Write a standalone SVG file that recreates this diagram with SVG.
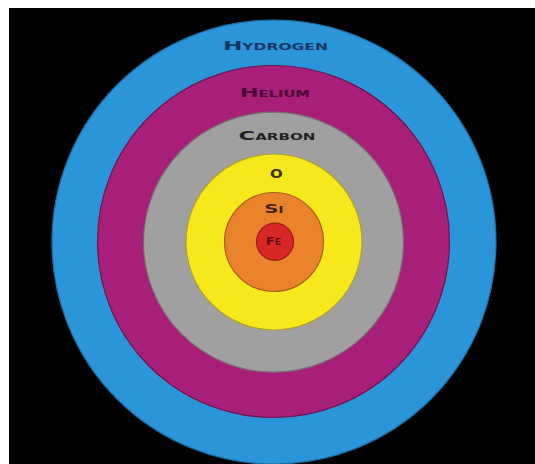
<svg xmlns="http://www.w3.org/2000/svg" width="535" height="464" viewBox="0 0 535 464">
<style>
.lbl{font-family:"DejaVu Sans","Liberation Sans",sans-serif;font-weight:bold;font-size:12px;font-variant:small-caps;text-anchor:middle}
.ring{stroke-width:1.2}
</style>
<rect x="0" y="0" width="535" height="464" fill="#ffffff"/>
<rect x="9" y="8" width="526" height="456" fill="#000000"/>
<g id="hydrogen">
<circle class="ring" cx="274" cy="242" r="222" fill="#2a95d8" stroke="#1d6fa3"/>
<text class="lbl" x="275.4" y="50" textLength="105" lengthAdjust="spacingAndGlyphs" fill="#16385e">Hydrogen</text>
</g>
<g id="helium">
<circle class="ring" cx="273.5" cy="241.5" r="176" fill="#a81f7a" stroke="#6e1450"/>
<text class="lbl" x="275" y="97" textLength="70" lengthAdjust="spacingAndGlyphs" fill="#4a0934">Helium</text>
</g>
<g id="carbon">
<circle class="ring" cx="273.5" cy="242.2" r="130" fill="#a0a0a0" stroke="#7a6a70"/>
<text class="lbl" x="277" y="140" textLength="77" lengthAdjust="spacingAndGlyphs" fill="#222222">Carbon</text>
</g>
<g id="oxygen">
<circle class="ring" cx="274" cy="242" r="88" fill="#f7e81c" stroke="#b0a030"/>
<text class="lbl" x="276.3" y="178" textLength="12.7" lengthAdjust="spacingAndGlyphs" fill="#3a3200">O</text>
</g>
<g id="silicon">
<circle class="ring" cx="274" cy="242" r="49.5" fill="#e9822b" stroke="#a8601f"/>
<text class="lbl" x="273.8" y="213" textLength="19" lengthAdjust="spacingAndGlyphs" fill="#3a2410">Si</text>
</g>
<g id="iron">
<circle class="ring" cx="275" cy="241.7" r="18.5" fill="#db2628" stroke="#a01a1c"/>
<text class="lbl" x="273.5" y="245" textLength="15" lengthAdjust="spacingAndGlyphs" fill="#5e0a0a" style="font-size:11px">Fe</text>
</g>
</svg>
